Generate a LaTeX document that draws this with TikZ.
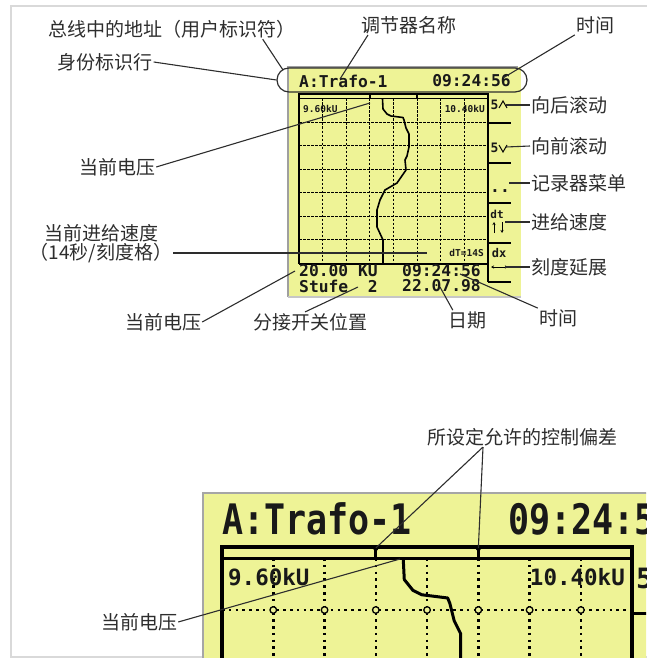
\documentclass[tikz,border=0pt]{standalone}
\usepackage{graphicx}
\usepackage{fontspec}
\setmainfont{Noto Sans CJK SC}
\newfontfamily\mono{DejaVu Sans Mono}
\usetikzlibrary{arrows.meta}
\definecolor{lcd}{RGB}{238,243,150}
\definecolor{ink}{RGB}{45,45,45}
\tikzset{
  trace/.pic={\draw[line width=#1, line join=round] (83.5,5) -- (84,15) -- (88,20) -- (92,22) -- (104,23.5) -- (105,26) -- (107,34) -- (110,40) -- (110,53) -- (108,62) -- (106,66) -- (107,76) -- (98,89) -- (86,96) -- (81,106) -- (78,116) -- (78,133) -- (84,146) -- (84,169.5);}
}
\begin{document}
\begin{tikzpicture}[x=1pt,y=-1pt,
  lbl/.style={font=\fontsize{19}{21}\selectfont, text=ink, inner sep=1pt},
  leader/.style={draw=ink, line width=1.1pt},
  lcdtxt/.style={font=\mono\bfseries\fontsize{16.3}{18}\selectfont, inner sep=0pt, text=black!90},
  tinytxt/.style={font=\mono\bfseries\fontsize{9.5}{10}\selectfont, inner sep=0pt, text=black!90},
  menutxt/.style={font=\mono\bfseries\fontsize{13}{14}\selectfont, inner sep=0pt, text=black!90},
  bigtxt/.style={font=\mono\bfseries\fontsize{35}{38}\selectfont, inner sep=0pt, text=black!90},
  bigsmall/.style={font=\mono\bfseries\fontsize{22.5}{24}\selectfont, inner sep=0pt, text=black!90},
  smallgrid/.style={line width=0.9pt, dash pattern=on 2.5pt off 1.5pt},
  biggrid/.style={line width=2.6pt, dash pattern=on 2.6pt off 4.2pt},
  arr/.style={line width=0.9pt, -{Stealth[length=3pt,width=3pt]}}
]
\useasboundingbox (0,0) rectangle (646,658);
% outer light frame
\draw[gray!30, line width=2.5pt] (11,700) -- (11,6) -- (700,6);
\draw[gray!30, line width=2.5pt] (11,657) -- (700,657);

% ---------------- small screen ----------------
\fill[lcd] (288,67) rectangle (521,297);
\draw[gray!75, line width=1.5pt] (288,297) -- (288,67) -- (518,67);
\draw[gray!45, line width=1.2pt] (288,297) -- (521,297);
\node[draw=ink, line width=1.2pt, rounded corners=12pt, minimum width=250pt, minimum height=24pt, inner sep=0pt] (idline) at (402,80) {};

\node[lcdtxt, anchor=west] (hA) at (299,81) {A:Trafo-1};
\node[lcdtxt, anchor=east] (hT) at (511,81) {09:24:56};

% grid
\foreach \i in {1,...,7} \draw[smallgrid] ({299+23.625*\i},98.5) -- ({299+23.625*\i},263.5);
\foreach \j in {1,...,6} \draw[smallgrid] (299,{98.5+23.57*\j}) -- (488,{98.5+23.57*\j});
\draw[line width=2pt] (299,263.5) -- (299,94) -- (488,94) -- (488,282);
\draw[line width=2pt] (299,263.5) -- (488,263.5);
\draw[line width=1.1pt] (299,98.5) -- (488,98.5);
\foreach \i in {3,5} \draw[line width=1.8pt] ({299+23.625*\i},94) -- ({299+23.625*\i},98.5);
\foreach \y in {123,163,203,243,282} \draw[line width=1.6pt] (488,\y) -- (511,\y);
\pic at (299,94) {trace=1.6};

\node[tinytxt, anchor=west] (v1) at (303,108.5) {9.60kU};
\node[tinytxt, anchor=east] (v2) at (485,108.5) {10.40kU};
\node[tinytxt, anchor=east] (dT) at (484,253) {dT=14S};

\node[lcdtxt, anchor=west] (kv) at (299,271) {20.00 KU};
\node[lcdtxt, anchor=west] (tm) at (402,271) {09:24:56};
\node[lcdtxt, anchor=west] (st) at (299,286) {Stufe~~2};
\node[lcdtxt, anchor=west] (dd) at (402,286) {22.07.98};

% menu column
\node[menutxt] (m1) at (494.5,105) {5};
\draw[line width=1pt] (499,108) -- (503,101) -- (507,108);
\node[menutxt] (m2) at (494.5,148) {5};
\draw[line width=1pt] (499,145) -- (503,152) -- (507,145);
\node[lcdtxt] (m3) at (500,191) {..};
\node[menutxt, font=\mono\bfseries\fontsize{11}{12}\selectfont] (m4) at (497,214) {dt};
\draw[arr] (494,233) -- (494,222);
\draw[arr] (502,222) -- (502,233);
\node[menutxt, font=\mono\bfseries\fontsize{12}{13}\selectfont] (m5) at (499,253) {dx};
\draw[line width=0.9pt, {Stealth[length=3pt,width=3pt]}-{Stealth[length=3pt,width=3pt]}] (491,267) -- (508,267);

% ---------------- labels (top part) ----------------
\node[lbl] (l1) at (172,29) {总线中的地址（用户标识符）};
\node[lbl] (l2) at (105,62) {身份标识行};
\node[lbl] (l3) at (409,25) {调节器名称};
\node[lbl] (l4) at (595,25) {时间};
\node[lbl] (l5) at (117,167) {当前电压};
\node[lbl] (l6a) at (101,233) {当前进给速度};
\node[lbl] (l6b) at (101,253) {（14秒/刻度格）};
\node[lbl] (l7) at (163,322) {当前电压};
\node[lbl] (l8) at (310,322) {分接开关位置};
\node[lbl] (l9) at (467,320) {日期};
\node[lbl] (l10) at (558,318) {时间};
\node[lbl, anchor=west] (r1) at (530,105) {向后滚动};
\node[lbl, anchor=west] (r2) at (530,146) {向前滚动};
\node[lbl, anchor=west] (r3) at (530,183) {记录器菜单};
\node[lbl, anchor=west] (r4) at (530,222) {进给速度};
\node[lbl, anchor=west] (r5) at (530,267) {刻度延展};

\coordinate (c1) at (283,70);
\coordinate (c3) at (340,79);
\coordinate (c4) at (503,78);
\coordinate (c5) at (370,103);
\coordinate (c6) at (427,253);
\coordinate (c7) at (295,271);
\coordinate (c8) at (358,287);
\coordinate (c9) at (440,287);
\coordinate (c10) at (460,274);
\coordinate (e1) at (506,105);
\coordinate (e2) at (506,147);
\coordinate (e3) at (509,183);
\coordinate (e4) at (505,222);
\coordinate (e5) at (505,267);

\draw[leader] ([xshift=-34pt]l1.south east) -- (c1);
\draw[leader] (l2.east) -- (idline.west);
\draw[leader] ([xshift=-41pt]l3.south) -- (c3);
\draw[leader] (l4.south west) -- (c4);
\draw[leader] (l5.east) -- (c5);
\draw[leader] (l6b.east) -- (c6);
\draw[leader] (l7.east) -- (c7);
\draw[leader] ([xshift=-5pt]l8.north) -- (c8);
\draw[leader] ([xshift=6pt]l9.north west) -- (c9);
\draw[leader] (l10.north west) -- (c10);
\draw[leader] (r1.west) -- (e1);
\draw[leader] (r2.west) -- (e2);
\draw[leader] (r3.west) -- (e3);
\draw[leader] (r4.west) -- (e4);
\draw[leader] (r5.west) -- (e5);

% ---------------- big screen ----------------
\begin{scope}
\clip (0,0) rectangle (646,658);
\fill[lcd] (203,493) rectangle (700,700);
\draw[gray!70, line width=1.5pt] (203,700) -- (203,493) -- (700,493);
\node[bigtxt, anchor=west] (bA) at (222,519) {\scalebox{1}[1.2]{A:Trafo-1}};
\node[bigtxt, anchor=west] (bT) at (508,519) {\scalebox{1}[1.2]{09:24:56}};
\foreach \i in {1,...,7} \draw[biggrid] ({222+51.27*\i},558) -- ({222+51.27*\i},700);
\draw[biggrid] (222,610) -- (632,610);
\foreach \i in {1,...,7} \draw[line width=1.3pt, fill=lcd] ({222+51.27*\i},610) circle (3.3);
\draw[line width=3.5pt] (222,700) -- (222,547) -- (632,547) -- (632,700);
\draw[line width=3pt] (222,558) -- (632,558);
\draw[line width=3pt] (632,613) -- (700,613);
\coordinate (t1) at ({222+51.27*3},548);
\coordinate (t2) at ({222+51.27*5},548);
\draw[line width=3pt] (t1) -- ++(0,10);
\draw[line width=3pt] (t2) -- ++(0,10);
\fill (t1) circle (2.8);
\fill (t2) circle (2.8);
\node[bigsmall, anchor=west] (b1) at (228,577) {9.60kU};
\node[bigsmall, anchor=east] (b2) at (625,577) {10.40kU};
\node[bigtxt, font=\mono\bfseries\fontsize{28}{30}\selectfont, anchor=west] (b5) at (636,578) {5};
\pic[scale=2.17] at (222,547) {trace=3};
\end{scope}

\node[lbl] (l16) at (522,437) {所设定允许的控制偏差};
\node[lbl] (l17) at (139,622) {当前电压};
\coordinate (c17) at (400,559);
\draw[leader] ([xshift=-39pt]l16.south) -- (t1);
\draw[leader] ([xshift=-39pt]l16.south) -- (t2);
\draw[leader] (l17.east) -- (c17);
\end{tikzpicture}
\end{document}
